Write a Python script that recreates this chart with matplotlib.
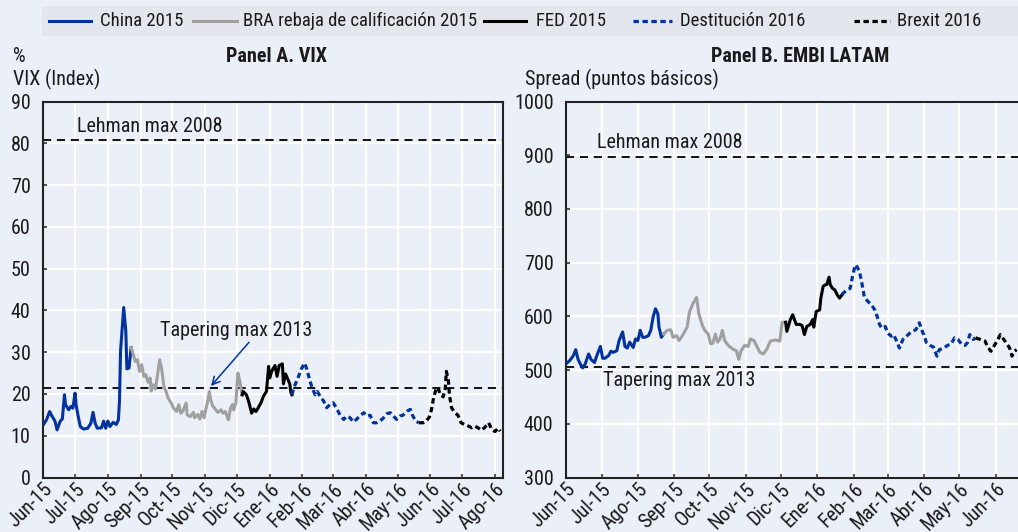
import matplotlib
matplotlib.use('Agg')
import matplotlib.pyplot as plt
import matplotlib.font_manager as fm
from matplotlib.lines import Line2D
import numpy as np

# ---------------- data ----------------
# x values: days after 2015-06-01
vix_days = [0, 3, 6, 8, 11, 13, 16, 18, 20, 21, 24, 26, 28, 30, 31, 33, 35, 38, 42, 45,
            47, 49, 51, 55, 57, 59, 61, 63, 66, 69, 71, 72, 73, 76, 78, 79, 81, 83,
            87, 89, 91, 93, 95, 97, 99, 101, 102, 104, 106, 108, 110, 112, 114, 116, 118, 121,
            123, 126, 128, 130, 132, 135, 136, 139, 142, 143, 146, 148, 150, 152, 153, 155, 157,
            158, 160, 163, 165, 168, 170, 172, 175, 177, 179, 180, 182, 184, 186, 188,
            189, 192, 194, 197, 199, 201, 203, 206, 208, 211, 213, 214, 216, 219, 221, 223, 226,
            227, 229, 231, 233, 234, 235,
            237, 241, 244, 247, 249, 252, 254, 257, 259, 262, 265, 268, 271, 274, 277, 281, 284,
            287, 290, 293, 296, 299, 303, 306, 309, 312, 315, 318, 321, 325, 328, 331, 334, 337,
            340, 344, 347, 349, 352, 355,
            359, 362, 365, 367, 369, 371, 373, 375, 378, 380, 381, 383, 384, 386, 389, 392, 395,
            398, 402, 405, 408, 411, 414, 417, 421, 424, 427, 430, 432]
vix_vals = [12.6, 13.8, 15.8, 14.8, 13.5, 11.4, 13.5, 14.0, 19.8, 17.4, 16.2, 17.0, 16.6, 20.2, 17.4, 14.6, 12.2, 11.6, 11.8, 13.0,
            15.6, 13.0, 11.8, 11.9, 13.5, 11.8, 13.5, 12.2, 13.2, 12.7, 13.8, 18.2, 30.2, 40.7, 35.0, 26.0, 26.2, 31.1,
            27.8, 28.2, 25.4, 27.0, 24.2, 24.6, 22.8, 23.8, 20.7, 22.2, 21.2, 24.6, 28.2, 25.8, 21.8, 20.6, 19.0, 17.8,
            16.6, 15.8, 17.4, 15.4, 15.9, 17.8, 15.0, 14.6, 15.6, 14.3, 15.1, 14.0, 15.8, 14.3, 15.6, 17.8, 20.6,
            18.8, 17.2, 16.2, 15.6, 16.2, 15.4, 15.8, 13.8, 16.6, 17.5, 16.2, 17.8, 25.0, 22.8, 19.8,
            20.6, 19.8, 18.3, 15.4, 16.4, 15.8, 16.6, 18.0, 19.4, 20.6, 26.6, 23.8, 25.5, 26.8, 24.2, 26.8, 27.2,
            22.4, 24.8, 23.6, 22.4, 20.4, 19.8,
            21.6, 24.0, 26.0, 27.4, 26.0, 23.2, 21.6, 19.8, 20.6, 19.3, 18.3, 16.7, 17.5, 17.9, 16.7, 14.7, 13.9,
            14.7, 14.3, 13.3, 13.9, 14.7, 15.5, 14.7, 14.9, 13.1, 13.1, 13.5, 14.1, 15.3, 15.5, 14.7, 13.9, 14.7,
            14.9, 15.9, 16.3, 14.9, 13.5, 13.1,
            13.1, 13.5, 14.5, 16.3, 19.1, 20.9, 21.6, 20.0, 19.3, 21.2, 25.4, 23.2, 19.6, 16.7, 15.5, 14.9, 13.1,
            12.7, 12.3, 11.9, 12.3, 11.9, 11.3, 11.9, 13.1, 11.5, 11.0, 11.8, 11.1]
vix_breaks = [83, 188, 235, 355]          # last day of each episode

embi_days = [1, 3, 6, 8, 10, 12, 14, 16, 19, 21, 24, 26, 29, 31, 33, 36, 38, 40, 43, 45, 48, 50,
             52, 54, 57, 59, 61, 63, 65, 67, 70, 72, 74, 76, 78, 79, 81, 83,
             86, 89, 91, 94, 96, 99, 103, 105, 108, 111, 113, 116, 118, 121, 123, 125, 127, 129,
             131, 133, 135, 138, 142, 145, 147, 149, 152, 155, 157, 160, 162, 165, 168, 171, 174,
             178, 182, 184, 187,
             188, 191, 193, 196, 199, 201, 203, 205, 208, 210, 211, 213, 216, 217, 219, 221, 222,
             224, 225, 227, 229, 231, 233, 235,
             236, 239, 242, 244, 246, 247, 250, 252, 254, 257, 260, 263, 265, 267, 269, 272, 274,
             277, 279, 281, 284, 287, 290, 293, 295, 298, 301, 304, 305, 307, 310, 313, 316, 318,
             322, 325, 328, 331, 334, 337, 340, 342, 344, 347, 349,
             353, 357, 359, 362, 365, 368, 370, 372, 375, 378, 380, 382, 384]
embi_vals = [514, 518, 527, 538, 520, 511, 504, 511, 530, 520, 514, 527, 544, 522, 522, 527, 535, 533, 536, 555, 571, 544,
             541, 552, 542, 558, 555, 574, 561, 561, 564, 574, 599, 614, 605, 580, 561, 567,
             574, 575, 561, 564, 555, 564, 580, 608, 624, 635, 605, 583, 574, 567, 549, 550, 567, 552,
             558, 574, 555, 546, 539, 536, 520, 536, 546, 544, 558, 555, 546, 533, 530, 539, 554,
             556, 554, 589, 589,
             572, 594, 603, 585, 585, 583, 566, 581, 585, 594, 580, 609, 612, 634, 656, 659, 659,
             673, 659, 652, 649, 640, 634, 640,
             643, 649, 652, 674, 693, 696, 683, 662, 637, 628, 622, 612, 600, 585, 578, 581, 569,
             563, 566, 557, 541, 557, 563, 569, 572, 575, 588, 569, 566, 551, 546, 543, 526, 538,
             541, 546, 548, 560, 557, 548, 546, 551, 566, 557, 560,
             557, 554, 544, 535, 546, 557, 566, 560, 551, 541, 526, 535, 538]
embi_breaks = [83, 187, 235, 349]

episodes = ['China 2015', 'BRA rebaja de calificación 2015', 'FED 2015',
            'Destitución 2016', 'Brexit 2016']

month_ticks = ['2015-06-01', '2015-07-01', '2015-08-01', '2015-09-01', '2015-10-01',
               '2015-11-01', '2015-12-01', '2016-01-01', '2016-02-01', '2016-03-01',
               '2016-04-01', '2016-05-01', '2016-06-01', '2016-07-01', '2016-08-01']
month_labels = ['Jun-15', 'Jul-15', 'Ago-15', 'Sep-15', 'Oct-15', 'Nov-15', 'Dic-15',
                'Ene-16', 'Feb-16', 'Mar-16', 'Abr-16', 'May-16', 'Jun-16', 'Jul-16', 'Ago-16']

vix_lehman, vix_tapering = 80.9, 21.4
embi_lehman, embi_tapering = 897, 506

# ---------------- style ----------------
names = {f.name for f in fm.fontManager.ttflist}
FONT = 'DejaVu Sans'
for cand in ['Liberation Sans Narrow', 'Arial Narrow', 'Roboto Condensed', 'Roboto', 'Liberation Sans']:
    if cand in names:
        FONT = cand
        break
NARROW = FONT in ('Liberation Sans Narrow', 'Arial Narrow', 'Roboto Condensed')
FS = 14.5 if NARROW else 12.0
LFS = 13.5 if NARROW else 10.8
plt.rcParams['font.family'] = [FONT, 'DejaVu Sans']

BG = '#EBEFF8'
LEG_BG = '#E3E6EC'
BLUE = '#0033A0'
GRAY = '#A0A0A0'
BLACK = '#000000'
TXT = '#1A1A1A'

styles = [
    dict(color=BLUE, lw=2.2, ls='-'),
    dict(color=GRAY, lw=2.2, ls='-'),
    dict(color=BLACK, lw=2.2, ls='-'),
    dict(color=BLUE, lw=2.3, ls=(0, (1.7, 1.1))),
    dict(color=BLACK, lw=2.3, ls=(0, (1.7, 1.1))),
]

W, H = 1018, 532
fig = plt.figure(figsize=(W / 100, H / 100), dpi=100)
fig.patch.set_facecolor(BG)


def fx(x):
    return x / W


def fy(y):
    return 1 - y / H


base = np.datetime64('2015-06-01')
ticks = np.array(month_ticks, dtype='datetime64[D]')
xlim = (np.datetime64('2015-05-31T17:00'), np.datetime64('2016-08-08T14:00'))


def make_axes(left, right, ylim, yticks, ntick):
    ax = fig.add_axes([fx(left), fy(477.5), fx(right - left), (477.5 - 101.5) / H])
    ax.set_facecolor(BG)
    ax.set_xlim(*xlim)
    ax.set_ylim(*ylim)
    ax.set_yticks(yticks)
    ax.set_xticks(ticks[:ntick])
    ax.set_xticklabels(month_labels[:ntick], rotation=45, ha='right', va='top',
                       rotation_mode='anchor', fontsize=FS, color=TXT)
    ax.tick_params(axis='x', direction='in', length=3, width=1.2, color='#333333', pad=1.5)
    ax.tick_params(axis='y', direction='in', length=3, width=1.2, color='#333333',
                   labelsize=FS, labelcolor=TXT, pad=9)
    ax.grid(True, color='white', lw=1.6)
    ax.set_axisbelow(True)
    for s in ax.spines.values():
        s.set_color('#222222')
        s.set_linewidth(1.5)
    return ax


def draw_series(ax, days, vals, breaks):
    d = np.array(days)
    v = np.array(vals)
    x = base + d.astype('timedelta64[D]')
    edges = [d[0]] + list(breaks) + [d[-1]]
    for i in range(5):
        m = (d >= edges[i]) & (d <= edges[i + 1])
        ax.plot(x[m], v[m], **styles[i], zorder=3)


axA = make_axes(43, 503, (0, 90), range(0, 91, 10), 15)
axB = make_axes(566, 1076, (300, 1000), range(300, 1001, 100), 13)

draw_series(axA, vix_days, vix_vals, vix_breaks)
draw_series(axB, embi_days, embi_vals, embi_breaks)

ref = dict(color=BLACK, lw=1.3, ls=(0, (4.5, 3.2)), zorder=2)
axA.axhline(vix_lehman, **ref)
axA.axhline(vix_tapering, **ref)
axB.axhline(embi_lehman, **ref)
axB.axhline(embi_tapering, **ref)

# annotations
fig.text(fx(77), fy(127), 'Lehman max 2008', fontsize=FS, color=TXT, va='center', ha='left')
fig.text(fx(597), fy(143), 'Lehman max 2008', fontsize=FS, color=TXT, va='center', ha='left')
fig.text(fx(603), fy(381), 'Tapering max 2013', fontsize=FS, color=TXT, va='center', ha='left')
axA.annotate('Tapering max 2013', xy=(fx(211), fy(386)), xycoords='figure fraction',
             xytext=(fx(160), fy(330)), textcoords='figure fraction',
             fontsize=FS, color=TXT, va='center', ha='left',
             arrowprops=dict(arrowstyle='->', color=BLUE, lw=1.1,
                             shrinkA=0, shrinkB=0, mutation_scale=14,
                             relpos=(0.6, 0.0)))

# titles / units
fig.text(fx(276), fy(57), 'Panel A. VIX', fontsize=FS, fontweight='bold', ha='center', va='center', color=TXT)
fig.text(fx(800), fy(57), 'Panel B. EMBI LATAM', fontsize=FS, fontweight='bold', ha='center', va='center', color=TXT)
fig.text(fx(13), fy(57), '%', fontsize=FS, ha='left', va='center', color=TXT)
fig.text(fx(13), fy(79), 'VIX (Index)', fontsize=FS, ha='left', va='center', color=TXT)
fig.text(fx(525), fy(79), 'Spread (puntos básicos)', fontsize=FS, ha='left', va='center', color=TXT)

# legend band
fig.patches.append(plt.Rectangle((fx(42), fy(36)), 1 - fx(42), (36 - 6) / H,
                                 transform=fig.transFigure, facecolor=LEG_BG,
                                 edgecolor='none', zorder=0))
leg_items = [(49, 91, 100), (193, 237, 243), (484, 526, 536), (633, 672, 680), (854, 890, 897)]
for (x0, x1, xt), lab, st in zip(leg_items, episodes, styles):
    fig.add_artist(Line2D([fx(x0), fx(x1)], [fy(21), fy(21)], transform=fig.transFigure, **st))
    fig.text(fx(xt), fy(21), lab, fontsize=LFS, ha='left', va='center', color=TXT)

fig.savefig('out.png', dpi=100, facecolor=BG)
